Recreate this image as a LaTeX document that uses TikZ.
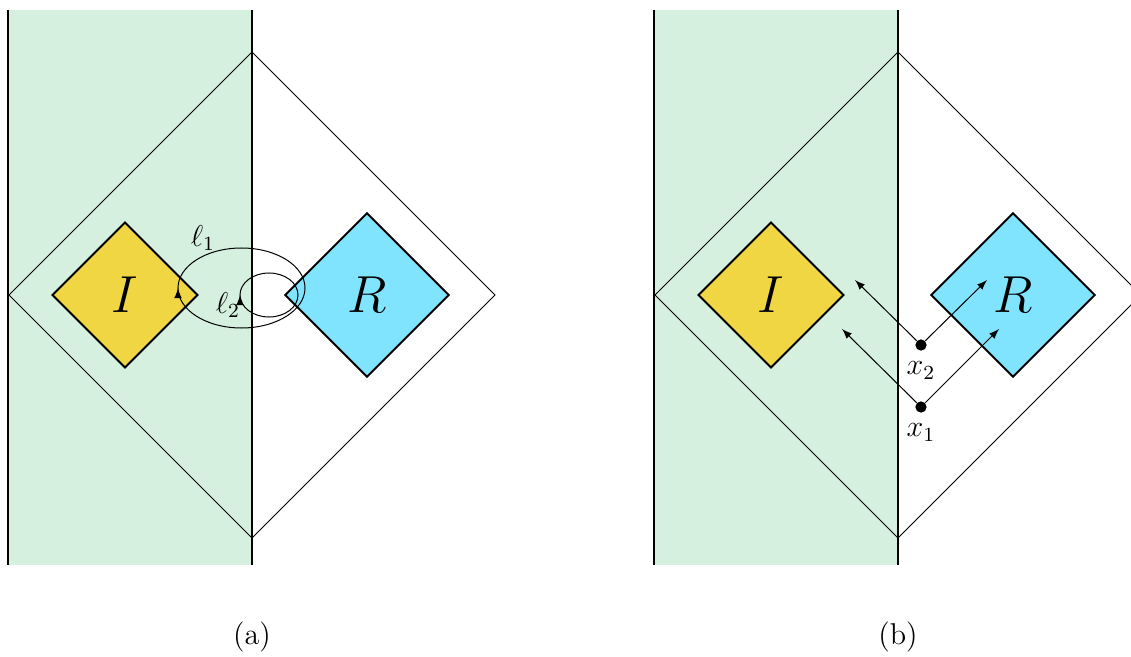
\documentclass[12pt,tikz,border=0pt]{standalone}
\usetikzlibrary{shapes.geometric,decorations.markings}
\definecolor{bandgreen}{RGB}{213,240,222}
\definecolor{regionyellow}{RGB}{240,214,66}
\definecolor{regioncyan}{RGB}{128,228,255}

\begin{document}
\begin{tikzpicture}[scale=0.7,
	region/.style={shape=diamond, draw=black, thick, inner sep=0pt, font=\fontsize{21pt}{25pt}\selectfont},
	loopline/.style={thin, postaction={decorate}, decoration={markings, mark=at position 0.5 with {\arrowreversed{latex}}}},
	point/.style={circle, fill=black, inner sep=0pt, minimum size=4.5pt},
	ray/.style={-latex, thin}]
	\useasboundingbox (-5.04,-7.24) rectangle (17.58,5.9);
	% common background of both panels
	\foreach \dx/\p in {0/a, 12.92/b} {
		\fill[bandgreen] (\dx-4.88,-5.4) rectangle (\dx,5.7);
		\draw[thin] (\dx,4.86) -- (\dx+4.86,0) -- (\dx,-4.86) -- (\dx-4.86,0) -- cycle;
		\draw[semithick] (\dx-4.88,-5.4) -- (\dx-4.88,5.7);
		\draw[semithick] (\dx,-5.4) -- (\dx,5.7);
		\node[region, fill=regionyellow, minimum width=2.04cm, minimum height=2.04cm] (I-\p) at (\dx-2.54,0) {$I$};
		\node[region, fill=regioncyan, minimum width=2.3cm, minimum height=2.3cm] (R-\p) at (\dx+2.3,0) {$R$};
		\node (cap-\p) at (\dx,-6.84) {(\p)};
	}
	
	% (a) loops
	\draw[loopline] (-0.21,0.14) ellipse [x radius=1.27, y radius=0.8];
	\draw[loopline] (0.34,0) ellipse [x radius=0.58, y radius=0.44];
	\node (l1) at (-0.98,1.14) {$\ell_1$};
	\node (l2) at (-0.48,-0.2) {$\ell_2$};
	
	% (b) points and rays
	\node[point, label=below:$x_2$] (x2) at (13.38,-1.0) {};
	\node[point, label=below:$x_1$] (x1) at (13.38,-2.24) {};
	\coordinate (x2l) at (12.06,0.3);
	\coordinate (x2r) at (14.7,0.3);
	\coordinate (x1l) at (11.8,-0.68);
	\coordinate (x1r) at (14.94,-0.68);
	\draw[ray] (x2) -- (x2l);
	\draw[ray] (x2) -- (x2r);
	\draw[ray] (x1) -- (x1l);
	\draw[ray] (x1) -- (x1r);
\end{tikzpicture}
\end{document}
